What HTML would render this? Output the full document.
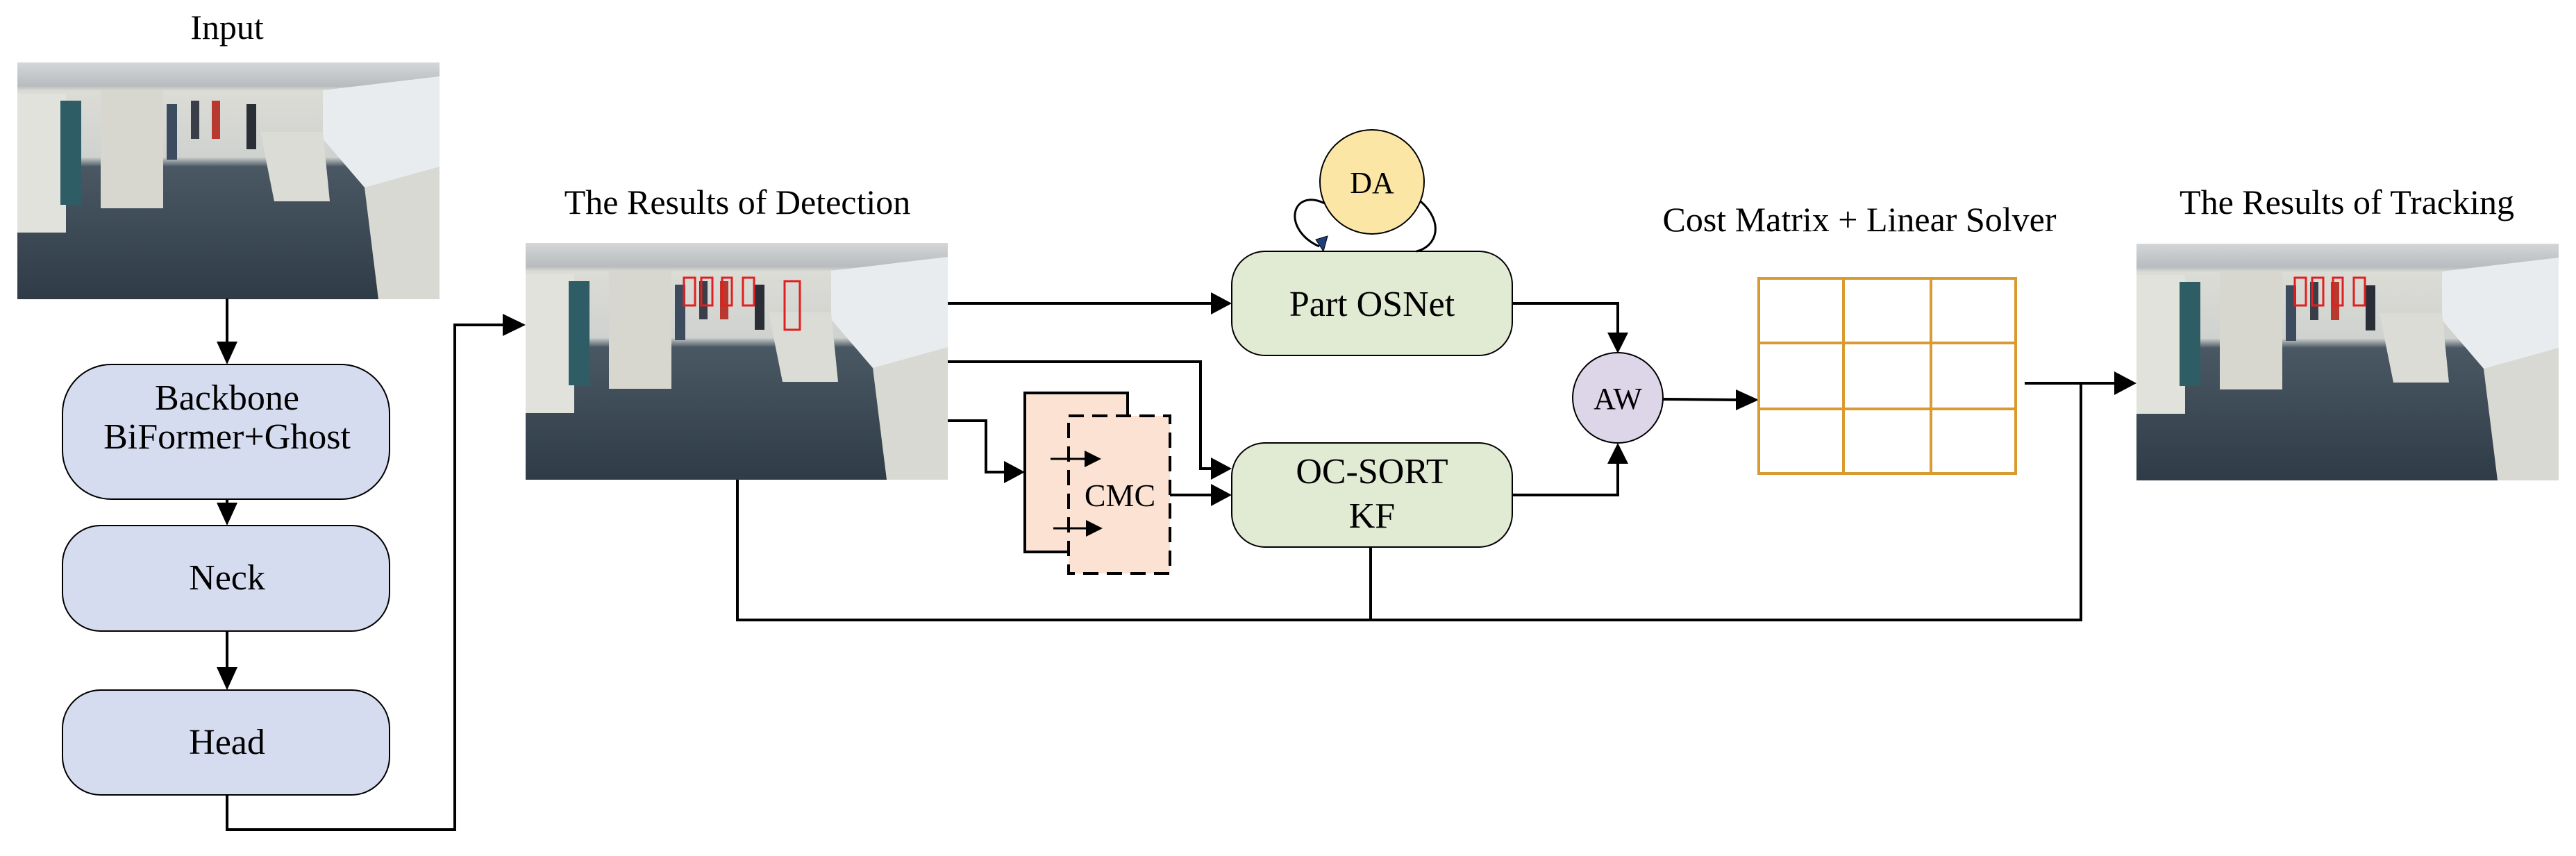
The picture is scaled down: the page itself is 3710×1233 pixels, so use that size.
<!DOCTYPE html>
<html><head><meta charset="utf-8"><style>
html,body{margin:0;padding:0;background:#fff;}
svg{display:block;font-family:"Liberation Serif","Times New Roman",serif;}
</style></head><body>
<svg width="3710" height="1233" viewBox="0 0 3710 1233" xmlns="http://www.w3.org/2000/svg" font-family="Liberation Serif, serif">
<defs>
<linearGradient id="ph" x1="0" y1="0" x2="0" y2="1">
<stop offset="0" stop-color="#d4d6d8"/><stop offset="0.1" stop-color="#b8bcbf"/>
<stop offset="0.12" stop-color="#dcdcd6"/><stop offset="0.40" stop-color="#cfd2cf"/>
<stop offset="0.44" stop-color="#4a5864"/><stop offset="1" stop-color="#2f3c47"/>
</linearGradient>
<g id="photo">
<rect x="0" y="0" width="608" height="341" fill="url(#ph)"/>
<rect x="0" y="45" width="70" height="200" fill="#e2e2dc"/>
<rect x="62" y="55" width="30" height="150" fill="#2f5d66"/>
<rect x="120" y="40" width="90" height="170" fill="#d8d7cf"/>
<polygon points="440,40 608,20 608,230 500,180 440,110" fill="#e9ecee"/>
<polygon points="500,180 608,150 608,341 520,341" fill="#d9d9d3"/>
<polygon points="350,100 440,100 450,200 370,200" fill="#dcdcd6"/>
<rect x="215" y="60" width="15" height="80" fill="#3d4b5e"/>
<rect x="250" y="55" width="12" height="55" fill="#3a3e48"/>
<rect x="280" y="55" width="12" height="55" fill="#b7392f"/>
<rect x="330" y="60" width="14" height="65" fill="#2a2e36"/>
</g>
</defs>

<g font-family="Liberation Serif, serif" fill="#000">
<text x="327" y="56" font-size="50" text-anchor="middle">Input</text>
<text x="1062" y="308" font-size="50" text-anchor="middle">The Results of Detection</text>
<text x="2678" y="333" font-size="50" text-anchor="middle">Cost Matrix + Linear Solver</text>
<text x="3380" y="308" font-size="50" text-anchor="middle">The Results of Tracking</text>
</g>

<use href="#photo" x="25" y="90"/>
<use href="#photo" x="757" y="350"/>
<use href="#photo" x="3077" y="351"/>
<g fill="none" stroke="#e02020" stroke-width="3">
<rect x="985" y="400" width="16" height="40"/><rect x="1010" y="400" width="16" height="40"/>
<rect x="1040" y="400" width="14" height="40"/><rect x="1070" y="400" width="16" height="40"/>
<rect x="1130" y="405" width="22" height="70"/>
<rect x="3305" y="400" width="16" height="40"/><rect x="3330" y="400" width="16" height="40"/>
<rect x="3360" y="400" width="14" height="40"/><rect x="3390" y="400" width="16" height="40"/>
</g>

<g fill="#d6dcef" stroke="#000" stroke-width="2">
<rect x="90" y="525" width="471" height="194" rx="70"/>
<rect x="90" y="757" width="471" height="152" rx="55"/>
<rect x="90" y="994" width="471" height="151" rx="55"/>
</g>
<g font-family="Liberation Serif, serif" fill="#000" font-size="52" text-anchor="middle">
<text x="327" y="590">Backbone</text>
<text x="327" y="646">BiFormer+Ghost</text>
<text x="327" y="849">Neck</text>
<text x="327" y="1086">Head</text>
</g>

<g stroke="#000" stroke-width="4" fill="none">
<line x1="327" y1="430" x2="327" y2="495"/>
<line x1="327" y1="719" x2="327" y2="730"/>
<line x1="327" y1="909" x2="327" y2="965"/>
<polyline points="327,1145 327,1195 655,1195 655,468 728,468"/>
<line x1="1365" y1="437" x2="1745" y2="437"/>
<polyline points="1365,521 1729,521 1729,675 1746,675"/>
<polyline points="1365,606 1420,606 1420,680 1448,680"/>
<line x1="1685" y1="713" x2="1746" y2="713"/>
<polyline points="2178,437 2330,437 2330,480"/>
<polyline points="2178,713 2330,713 2330,667"/>
<line x1="2395" y1="575" x2="2505" y2="576"/>
<polyline points="1062,691 1062,893 2997,893 2997,552"/>
<line x1="1974" y1="788" x2="1974" y2="893"/>
<line x1="2916" y1="552" x2="3048" y2="552"/>
</g>

<g fill="#000">
<polygon points="327,525 312,492 342,492"/>
<polygon points="327,757 312,724 342,724"/>
<polygon points="327,994 312,961 342,961"/>
<polygon points="757,468 724,452 724,484"/>
<polygon points="1774,437 1744,421 1744,453"/>
<polygon points="1774,675 1744,659 1744,691"/>
<polygon points="1476,680 1446,664 1446,696"/>
<polygon points="1774,713 1744,697 1744,729"/>
<polygon points="2330,509 2315,479 2345,479"/>
<polygon points="2330,638 2315,668 2345,668"/>
<polygon points="2533,576 2500,561 2500,591"/>
<polygon points="3077,552 3045,535 3045,569"/>
</g>

<rect x="1476" y="566" width="148" height="229" fill="#fbe2d3" stroke="#000" stroke-width="4"/>
<rect x="1539" y="599" width="146" height="227" fill="#fbe2d3" stroke="#000" stroke-width="4" stroke-dasharray="22,12"/>
<text x="1613" y="729" font-size="46" text-anchor="middle" font-family="Liberation Serif, serif">CMC</text>
<g stroke="#000" stroke-width="3">
<line x1="1513" y1="661" x2="1565" y2="661"/>
<line x1="1517" y1="761" x2="1565" y2="761"/>
</g>
<g fill="#000">
<polygon points="1586,661 1562,649 1562,673"/>
<polygon points="1588,761 1564,749 1564,773"/>
</g>

<rect x="1774" y="362" width="404" height="150" rx="48" fill="#e1ead3" stroke="#000" stroke-width="2"/>
<rect x="1774" y="638" width="404" height="150" rx="48" fill="#e1ead3" stroke="#000" stroke-width="2"/>
<g font-family="Liberation Serif, serif" fill="#000" font-size="52" text-anchor="middle">
<text x="1976" y="455">Part OSNet</text>
<text x="1976" y="696">OC-SORT</text>
<text x="1976" y="760">KF</text>
</g>

<path d="M1908,293 C1860,270 1845,330 1900,355" fill="none" stroke="#000" stroke-width="3"/>
<polygon points="1906,362 1895,345 1912,340" fill="#1f3f7a" stroke="#000" stroke-width="1"/>
<path d="M2046,290 C2080,320 2070,355 2040,362" fill="none" stroke="#000" stroke-width="3"/>
<ellipse cx="1976" cy="262" rx="75" ry="75" fill="#fbe6a6" stroke="#000" stroke-width="2"/>
<text x="1976" y="278" font-size="44" text-anchor="middle" font-family="Liberation Serif, serif">DA</text>

<ellipse cx="2330" cy="573" rx="65" ry="65" fill="#ddd6e8" stroke="#000" stroke-width="2"/>
<text x="2330" y="589" font-size="44" text-anchor="middle" font-family="Liberation Serif, serif">AW</text>

<g stroke="#d99a32" stroke-width="4" fill="none">
<rect x="2533" y="401" width="370" height="281"/>
<line x1="2533" y1="494" x2="2903" y2="494"/>
<line x1="2533" y1="589" x2="2903" y2="589"/>
<line x1="2655" y1="401" x2="2655" y2="682"/>
<line x1="2781" y1="401" x2="2781" y2="682"/>
</g>
</svg>
</body></html>
